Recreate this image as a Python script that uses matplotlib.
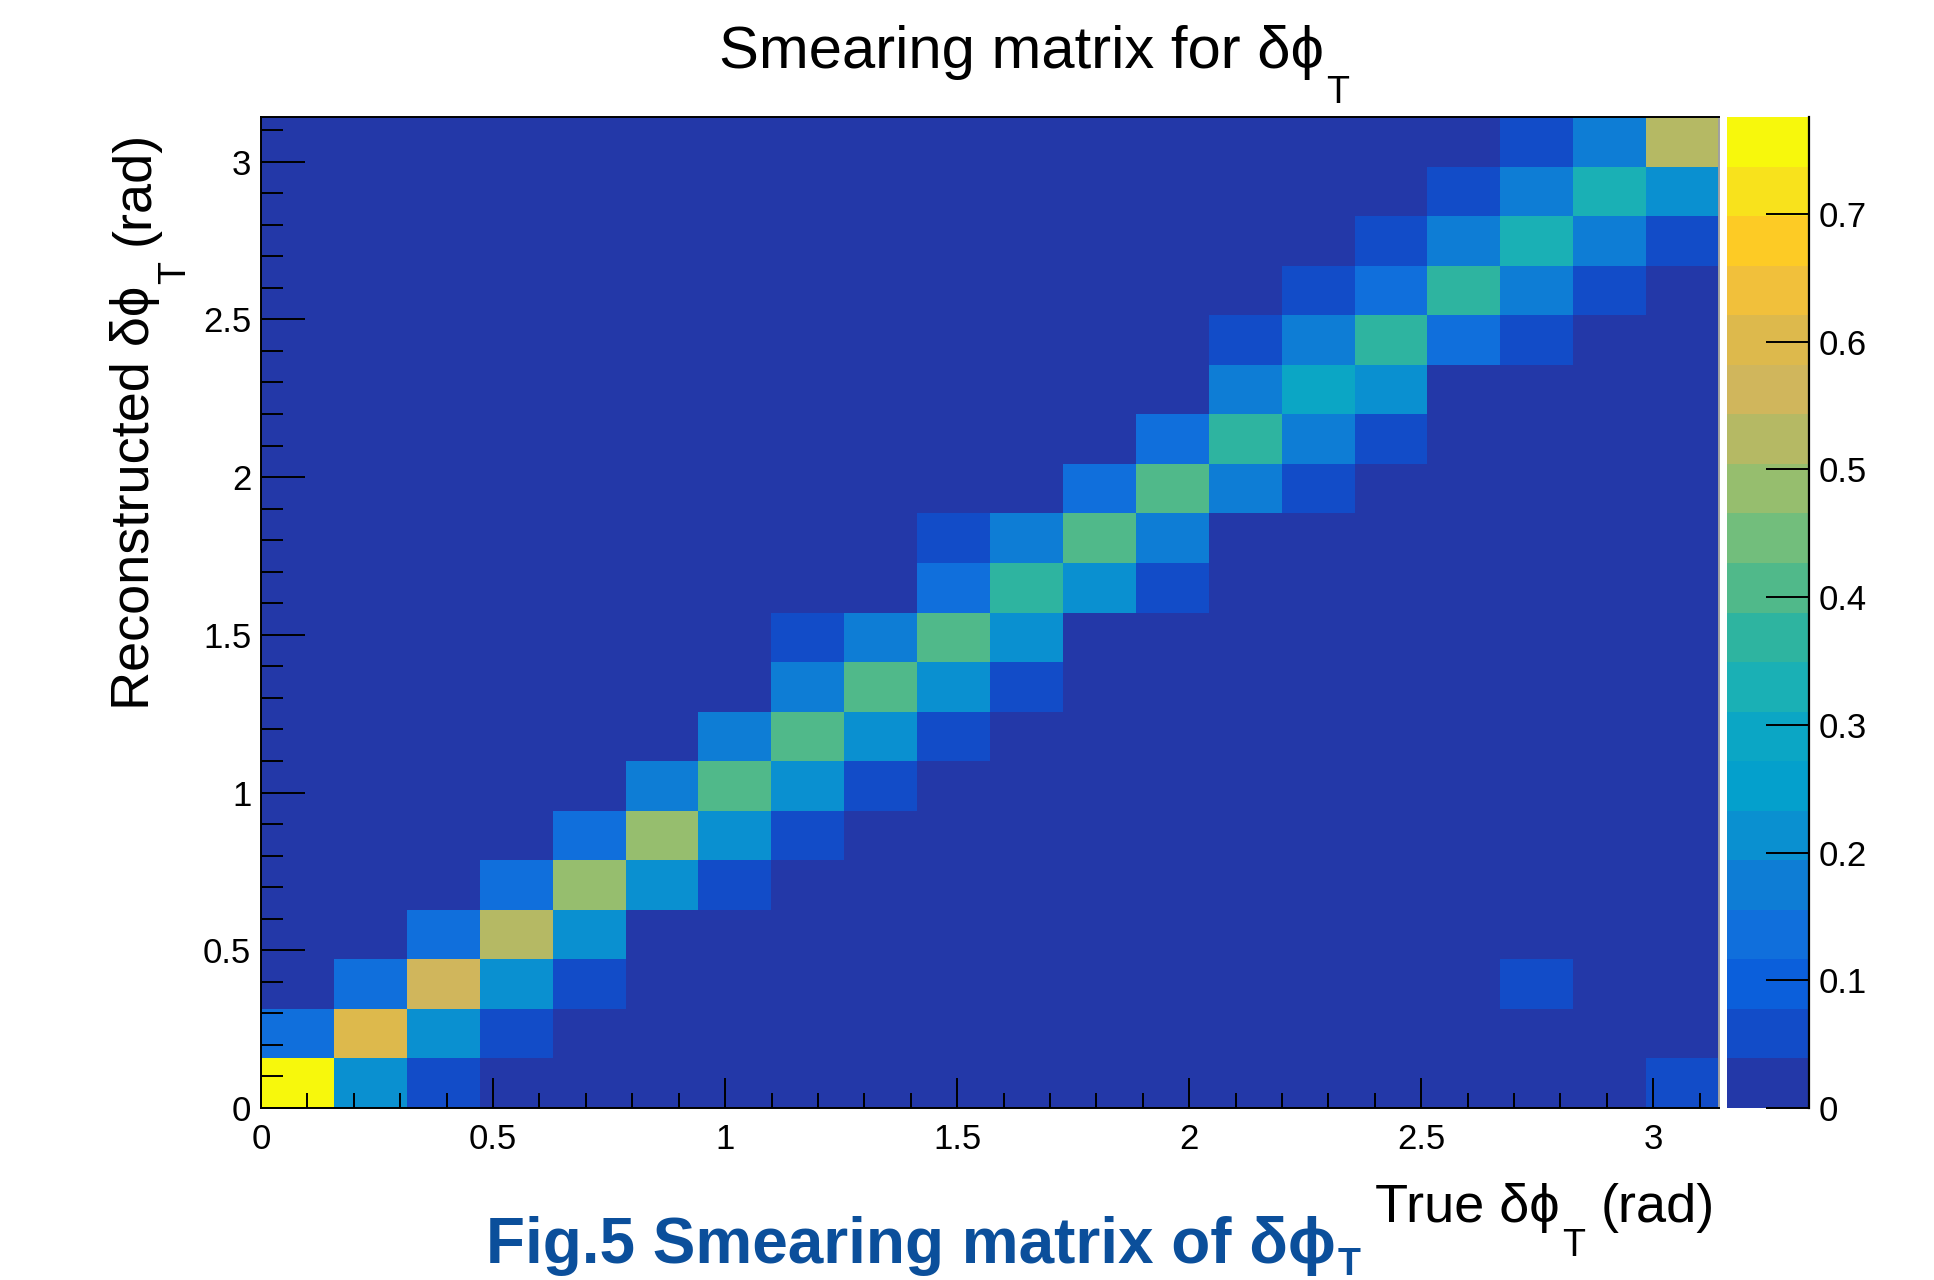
import numpy as np
import matplotlib
matplotlib.use("Agg")
import matplotlib.pyplot as plt
from matplotlib.colors import ListedColormap, BoundaryNorm
from matplotlib.ticker import MultipleLocator, FuncFormatter

plt.rcParams['font.family'] = ['Liberation Sans', 'DejaVu Sans']

# ---- data ----
n_bins = 20
x_range = (0.0, np.pi)
# smearing matrix: rows = reconstructed bins (bottom -> top), cols = true bins (left -> right)
row00 = [.776, .213, .058, 0, 0, 0, 0, 0, 0, 0, 0, 0, 0, 0, 0, 0, 0, 0, 0, .058]
row01 = [.136, .601, .213, .058, 0, 0, 0, 0, 0, 0, 0, 0, 0, 0, 0, 0, 0, 0, 0, 0]
row02 = [0, .136, .563, .213, .058, 0, 0, 0, 0, 0, 0, 0, 0, 0, 0, 0, 0, .058, 0, 0]
row03 = [0, 0, .136, .524, .213, 0, 0, 0, 0, 0, 0, 0, 0, 0, 0, 0, 0, 0, 0, 0]
row04 = [0, 0, 0, .136, .485, .213, .058, 0, 0, 0, 0, 0, 0, 0, 0, 0, 0, 0, 0, 0]
row05 = [0, 0, 0, 0, .136, .485, .213, .058, 0, 0, 0, 0, 0, 0, 0, 0, 0, 0, 0, 0]
row06 = [0, 0, 0, 0, 0, .175, .407, .213, .058, 0, 0, 0, 0, 0, 0, 0, 0, 0, 0, 0]
row07 = [0, 0, 0, 0, 0, 0, .175, .407, .213, .058, 0, 0, 0, 0, 0, 0, 0, 0, 0, 0]
row08 = [0, 0, 0, 0, 0, 0, 0, .175, .407, .213, .058, 0, 0, 0, 0, 0, 0, 0, 0, 0]
row09 = [0, 0, 0, 0, 0, 0, 0, .058, .175, .407, .213, 0, 0, 0, 0, 0, 0, 0, 0, 0]
row10 = [0, 0, 0, 0, 0, 0, 0, 0, 0, .136, .369, .213, .058, 0, 0, 0, 0, 0, 0, 0]
row11 = [0, 0, 0, 0, 0, 0, 0, 0, 0, .058, .175, .407, .175, 0, 0, 0, 0, 0, 0, 0]
row12 = [0, 0, 0, 0, 0, 0, 0, 0, 0, 0, 0, .136, .407, .175, .058, 0, 0, 0, 0, 0]
row13 = [0, 0, 0, 0, 0, 0, 0, 0, 0, 0, 0, 0, .136, .369, .175, .058, 0, 0, 0, 0]
row14 = [0, 0, 0, 0, 0, 0, 0, 0, 0, 0, 0, 0, 0, .175, .291, .213, 0, 0, 0, 0]
row15 = [0, 0, 0, 0, 0, 0, 0, 0, 0, 0, 0, 0, 0, .058, .175, .369, .136, .058, 0, 0]
row16 = [0, 0, 0, 0, 0, 0, 0, 0, 0, 0, 0, 0, 0, 0, .058, .136, .369, .175, .058, 0]
row17 = [0, 0, 0, 0, 0, 0, 0, 0, 0, 0, 0, 0, 0, 0, 0, .058, .175, .330, .175, .058]
row18 = [0, 0, 0, 0, 0, 0, 0, 0, 0, 0, 0, 0, 0, 0, 0, 0, .058, .175, .330, .213]
row19 = [0, 0, 0, 0, 0, 0, 0, 0, 0, 0, 0, 0, 0, 0, 0, 0, 0, .058, .175, .524]
matrix = np.array([row00, row01, row02, row03, row04, row05, row06, row07, row08, row09,
                   row10, row11, row12, row13, row14, row15, row16, row17, row18, row19])

axis_ticks = [0, 0.5, 1, 1.5, 2, 2.5, 3]
cbar_ticks = [0, 0.1, 0.2, 0.3, 0.4, 0.5, 0.6, 0.7]

# ROOT kBird-like palette, 20 contour levels
level_colors = ['#2338A8', '#124CC8', '#0B5FDB', '#106FDC', '#0E7DD5',
                '#0A90D0', '#04A0CC', '#0BA6C5', '#1AB0B5', '#2EB4A0',
                '#50B98A', '#72BE7C', '#96BE6E', '#B5B964', '#D0B65C',
                '#DDB94C', '#F1C03B', '#FDCB25', '#F8E21C', '#F7F80C']

PHI = 'ϕ'

# ---- figure ----
W, H = 1934, 1280
fig = plt.figure(figsize=(W / 100, H / 100), dpi=100, facecolor='white')

ax_l, ax_r, ax_t, ax_b = 261, 1719, 117, 1108
ax = fig.add_axes([ax_l / W, 1 - ax_b / H, (ax_r - ax_l) / W, (ax_b - ax_t) / H])
cb_l, cb_r = 1727, 1809
cax = fig.add_axes([cb_l / W, 1 - ax_b / H, (cb_r - cb_l) / W, (ax_b - ax_t) / H])

edges = np.linspace(x_range[0], x_range[1], n_bins + 1)
vmax = matrix.max()
cmap = ListedColormap(level_colors)
norm = BoundaryNorm(np.linspace(0, vmax, len(level_colors) + 1), cmap.N)
mesh = ax.pcolormesh(edges, edges, matrix, cmap=cmap, norm=norm,
                     edgecolors='none', antialiased=False, shading='flat')

ax.set_xlim(*x_range)
ax.set_ylim(*x_range)
fmt = FuncFormatter(lambda v, p: '%g' % v)
ax.set_xticks(axis_ticks)
ax.set_yticks(axis_ticks)
ax.xaxis.set_minor_locator(MultipleLocator(0.1))
ax.yaxis.set_minor_locator(MultipleLocator(0.1))
ax.xaxis.set_major_formatter(fmt)
ax.yaxis.set_major_formatter(fmt)
ax.tick_params(axis='x', which='major', direction='in', length=21.6, width=1.4,
               labelsize=25, pad=11, top=False)
ax.tick_params(axis='x', which='minor', direction='in', length=10.8, width=1.4, top=False)
ax.tick_params(axis='y', which='major', direction='in', length=32, width=1.4,
               labelsize=25, pad=7, right=False)
ax.tick_params(axis='y', which='minor', direction='in', length=16, width=1.4, right=False)
for s in ['left', 'bottom', 'top']:
    ax.spines[s].set_linewidth(1.4)
    ax.spines[s].set_color('black')
ax.spines['right'].set_linewidth(1.4)
ax.spines['right'].set_color('#a0a0a0')

cb = fig.colorbar(mesh, cax=cax, ticks=cbar_ticks)
cb.outline.set_visible(False)
cb.ax.yaxis.set_major_formatter(fmt)
cb.ax.minorticks_off()
cb.ax.tick_params(direction='in', length=31, width=1.4, labelsize=25, pad=7,
                  right=True, left=False)
cax.plot([1, 1], [0, 1], transform=cax.transAxes, color='black', lw=1.6,
         clip_on=False)

# ---- titles (ROOT-style subscripts) ----
def figpx_y(y_top):
    return H - y_top

# main title
t1 = fig.text(719 / W, 1 - 68 / H, 'Smearing matrix for δ' + PHI, fontsize=43,
              ha='left', va='baseline')
ax.annotate('T', xy=(1, figpx_y(75)), xycoords=(t1, 'figure pixels'),
            xytext=(2, 0), textcoords='offset pixels', fontsize=27,
            ha='left', va='top', annotation_clip=False)

# x-axis title, right aligned at axis end
x3 = fig.text(1715 / W, 1 - 1222 / H, '(rad)', fontsize=39, ha='right', va='baseline')
xT = ax.annotate('T', xy=(0, figpx_y(1228)), xycoords=(x3, 'figure pixels'),
                 xytext=(-16, 0), textcoords='offset pixels', fontsize=27,
                 ha='right', va='top', annotation_clip=False)
ax.annotate('True δ' + PHI, xy=(0, figpx_y(1222)), xycoords=(xT, 'figure pixels'),
            xytext=(-2, 0), textcoords='offset pixels', fontsize=39,
            ha='right', va='baseline', annotation_clip=False)

# y-axis title, rotated, ending near top of axis
y3 = fig.text(149 / W, 1 - 131 / H, '(rad)', fontsize=39, rotation=90,
              rotation_mode='anchor', ha='right', va='baseline')
yT = ax.annotate('T', xy=(157, 0), xycoords=('figure pixels', y3),
                 xytext=(0, -16), textcoords='offset pixels', fontsize=27,
                 rotation=90, rotation_mode='anchor', ha='right', va='top',
                 annotation_clip=False)
ax.annotate('Reconstructed δ' + PHI, xy=(149, 0), xycoords=('figure pixels', yT),
            xytext=(0, -2), textcoords='offset pixels', fontsize=39,
            rotation=90, rotation_mode='anchor', ha='right', va='baseline',
            annotation_clip=False)

# caption
cap_color = '#0b4f9b'
c1 = fig.text(486 / W, 1 - 1263 / H, 'Fig.5 Smearing matrix of δ' + PHI, fontsize=46,
              fontweight='bold', color=cap_color, ha='left', va='baseline')
ax.annotate('T', xy=(1, figpx_y(1247)), xycoords=(c1, 'figure pixels'),
            xytext=(2, 0), textcoords='offset pixels', fontsize=27,
            fontweight='bold', color=cap_color, ha='left', va='top',
            annotation_clip=False)

fig.savefig('out.png', dpi=100, facecolor='white')
